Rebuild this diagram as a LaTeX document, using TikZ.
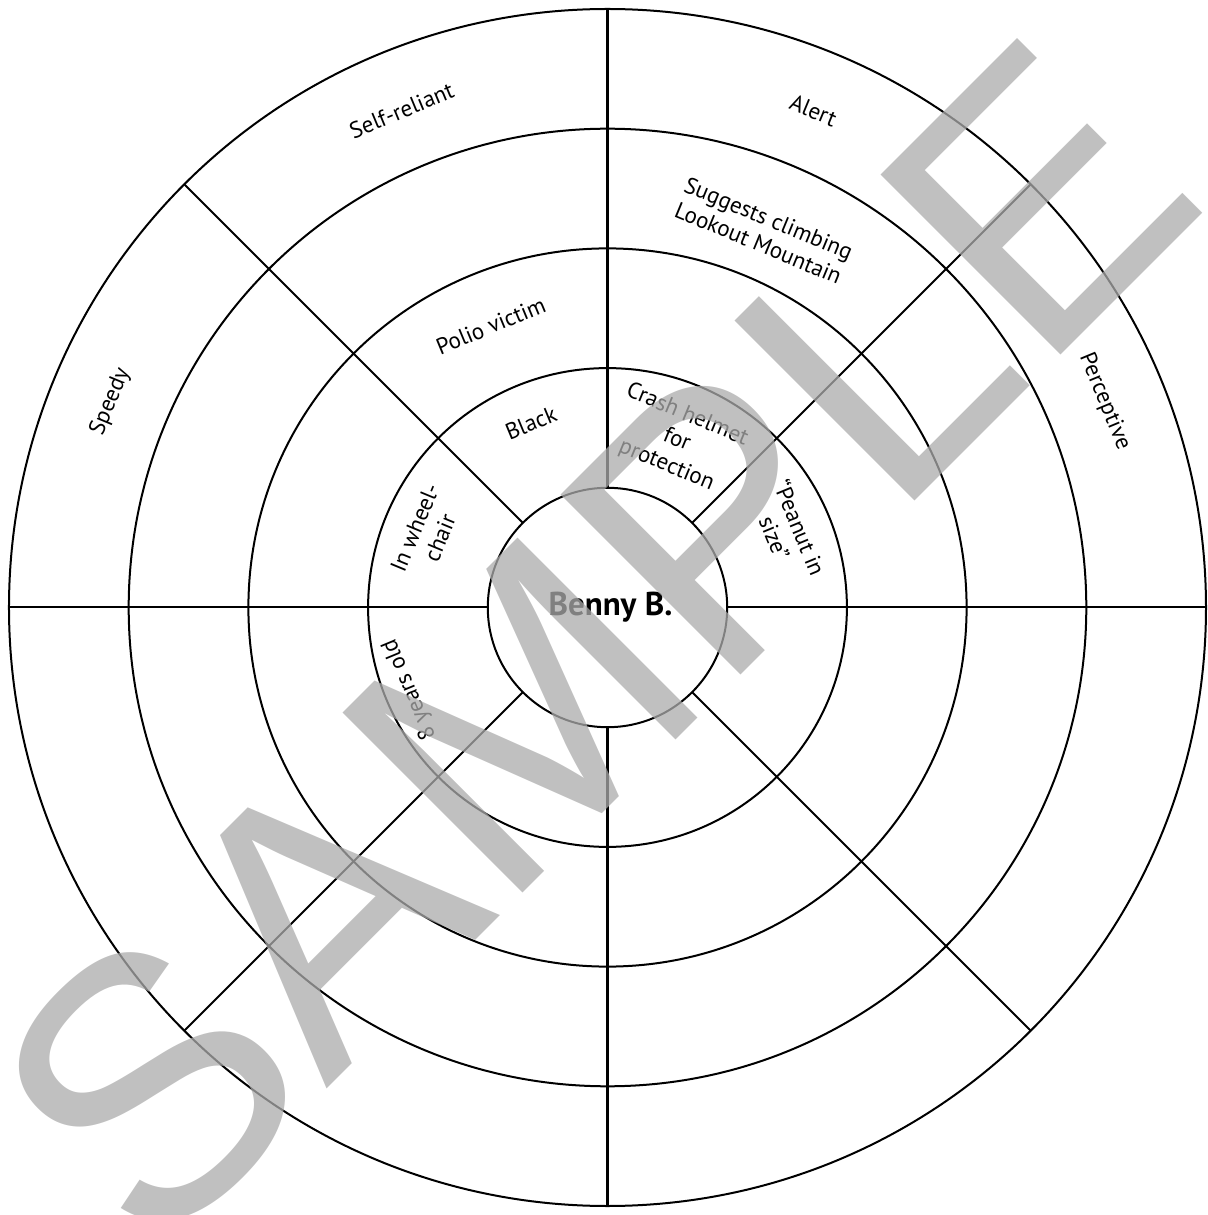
\documentclass[tikz,border=0pt]{standalone}
\usepackage{fontspec}
\setmainfont{PT Sans}
\newfontfamily\stampfont{Liberation Sans}

\begin{document}
\begin{tikzpicture}[x=1pt, y=1pt,
    trait/.style={align=center, inner sep=0pt, font=\fontsize{23}{27}\selectfont},
    ]
    \def\ringstep{119.7}
    \def\outerring{598.5}

    \useasboundingbox (-607.5,-607.5) rectangle (599.5,607.5);

    % Draw the rings and the spokes
    \foreach \k in {1,...,5}
        \draw[line width=2pt] (0,0) circle ({\k*\ringstep});
    \foreach \a in {0,45,...,315}
        \draw[line width=2pt] (\a:\ringstep) -- (\a:\outerring);

    \node[font=\fontsize{33}{38}\selectfont\bfseries] (benny) at (3,0) {Benny B.};

    % first ring
    \node[trait, rotate=22.5] (black) at (112.5:200) {Black};
    \node[trait, rotate=-22.5] (helmet) at (67.5:181) {Crash helmet\\for\\protection};
    \node[trait, rotate=67.5] (wheelchair) at (157.5:195) {In wheel-\\chair};
    \node[trait, rotate=-67.5] (peanut) at (22.5:195) {``Peanut in\\size''};
    \node[trait, rotate=112.5] (age) at (202.5:214) {8 years old};

    % outer rings
    \node[trait, rotate=22.5] (polio) at (112.5:305) {Polio victim};
    \node[trait, rotate=-22.5] (lookout) at (67.5:408) {Suggests climbing\\Lookout Mountain};
    \node[trait, rotate=22.5] (selfreliant) at (112.5:538) {Self-reliant};
    \node[trait, rotate=-22.5] (alert) at (67.5:538) {Alert};
    \node[trait, rotate=67.5] (speedy) at (157.5:538) {Speedy};
    \node[trait, rotate=-67.5] (perceptive) at (22.5:538) {Perceptive};

    % watermark on top
    \node[font=\stampfont\fontsize{370}{370}\selectfont, text=black!33, text opacity=0.75,
        rotate=45, anchor=base] (stamp) at (75.5,-125.5) {SAMPLE};
\end{tikzpicture}
\end{document}
